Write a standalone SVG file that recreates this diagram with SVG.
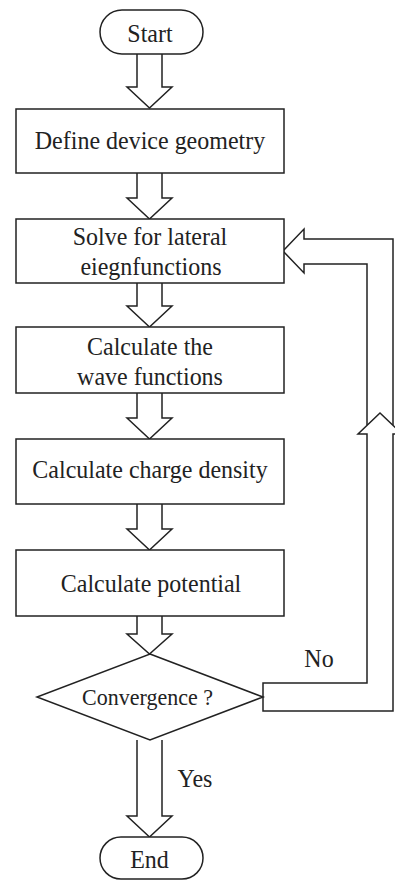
<svg xmlns="http://www.w3.org/2000/svg" width="395" height="880" viewBox="0 0 395 880">
<style>
.s{fill:#fff;stroke:#222;stroke-width:1.5}
.c{fill:none;stroke:#222;stroke-width:1.5;stroke-linejoin:miter}
text{font-family:"Liberation Serif","Times New Roman",serif;font-size:24px;fill:#222;text-anchor:middle}
</style>
<rect width="395" height="880" fill="#fff"/>
<g id="connectors">
<path class="c" d="M137,54 V87 H127 L149.5,108 L172,87 H162 V54"/>
<path class="c" d="M137,173 V198 H127 L149.5,219 L172,198 H162 V173"/>
<path class="c" d="M137,283 V306 H127 L149.5,327 L172,306 H162 V283"/>
<path class="c" d="M137,393 V418 H127 L149.5,439 L172,418 H162 V393"/>
<path class="c" d="M137,504 V529 H127 L149.5,550 L172,529 H162 V504"/>
<path class="c" d="M137,616 V634 H127 L149.5,654 L172,634 H162 V616"/>
<path class="c" d="M137,740 V816 H127 L149.5,837 L172,816 H162 V740"/>
<path class="c" d="M263,683 H367 V434 H358 L380,413 L402,434 H393 V711 H263 Z"/>
<path class="c" d="M367,425 V264 H304 V273 L283,251 L304,229 V239 H393 V425"/>
<text transform="translate(319,667) scale(1,1.08)">No</text>
<text transform="translate(195,787) scale(1,1.08)">Yes</text>
</g>
<g id="start">
<rect class="s" x="100" y="10" width="103" height="44" rx="22"/>
<text transform="translate(150,42) scale(1,1.08)">Start</text>
</g>
<g id="define">
<rect class="s" x="16" y="109" width="268" height="64"/>
<text transform="translate(150,149) scale(1,1.08)">Define device geometry</text>
</g>
<g id="solve">
<rect class="s" x="16" y="219" width="268" height="64"/>
<text transform="translate(150,245) scale(1,1.08)">Solve for lateral</text>
<text transform="translate(151,275) scale(1,1.08)">eiegnfunctions</text>
</g>
<g id="wave">
<rect class="s" x="16" y="327" width="268" height="66"/>
<text transform="translate(150,355) scale(1,1.08)">Calculate the</text>
<text transform="translate(150,385) scale(1,1.08)">wave functions</text>
</g>
<g id="charge">
<rect class="s" x="16" y="439" width="268" height="65"/>
<text transform="translate(150,478) scale(1,1.08)">Calculate charge density</text>
</g>
<g id="potential">
<rect class="s" x="16" y="550" width="268" height="66"/>
<text transform="translate(151,592) scale(1,1.08)">Calculate potential</text>
</g>
<g id="convergence">
<path class="s" d="M150,654 L263,697 L150,740 L37,697 Z"/>
<text style="font-size:22px" transform="translate(147.5,705) scale(1,1.08)">Convergence ?</text>
</g>
<g id="end">
<rect class="s" x="100" y="837" width="103" height="42" rx="21"/>
<text transform="translate(149.5,868) scale(1,1.08)">End</text>
</g>
</svg>
